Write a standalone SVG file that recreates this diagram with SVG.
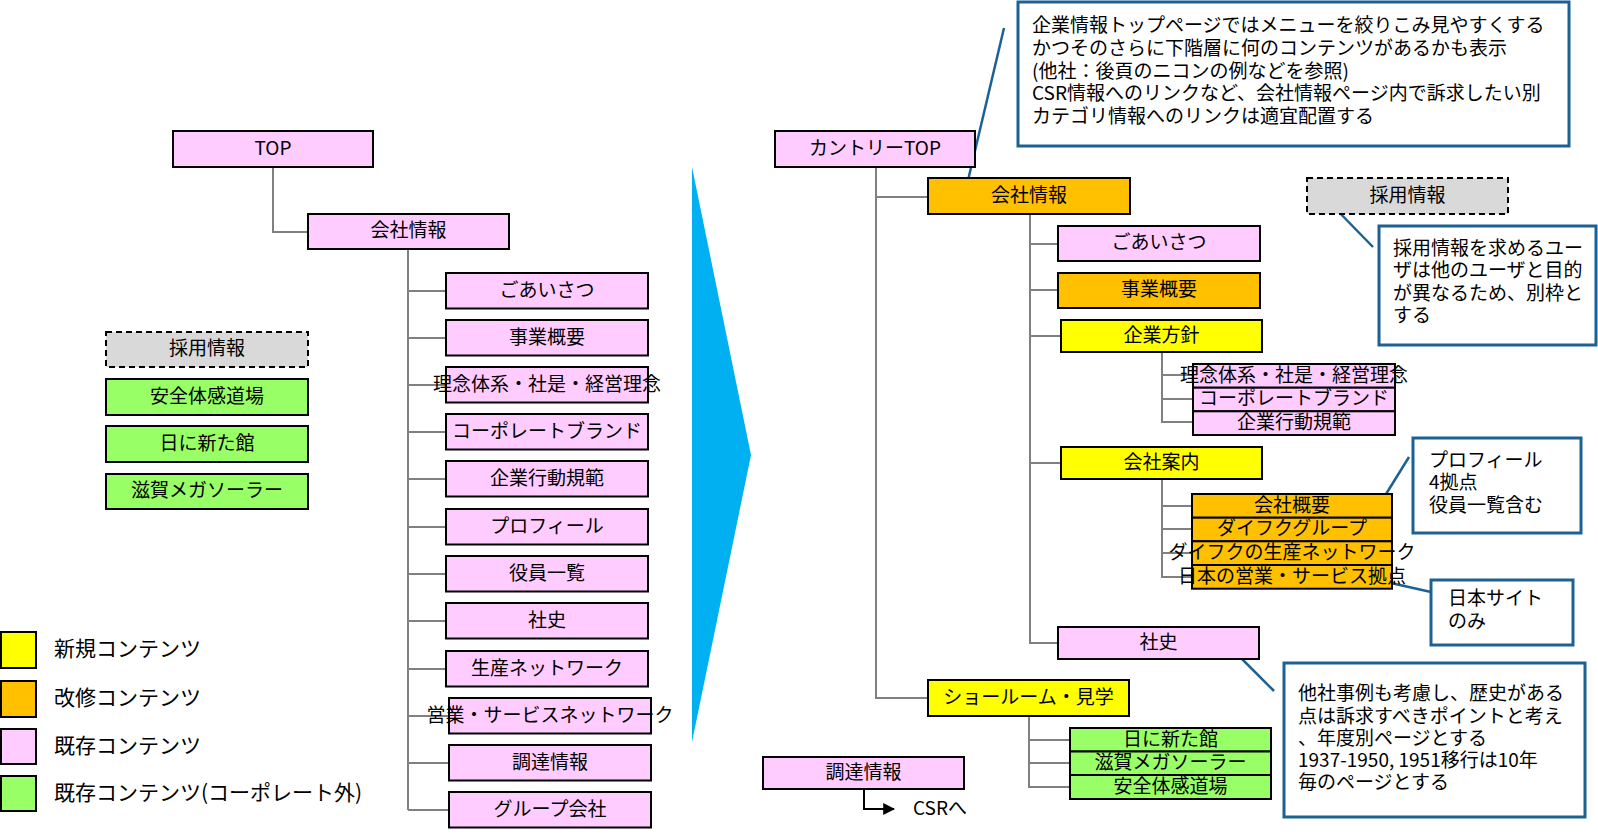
<svg xmlns="http://www.w3.org/2000/svg" width="1598" height="835" viewBox="0 0 1598 835">
<defs>
<marker id="ah" viewBox="0 0 10 10" refX="9" refY="5" markerWidth="6" markerHeight="6" orient="auto" markerUnits="strokeWidth"><path d="M0,0 L10,5 L0,10 z" fill="#000"/></marker>
<style>
text{font-family:"Noto Sans CJK JP","Noto Sans",sans-serif;font-size:19px;fill:#000;transform:translateY(-3px)}
.c{text-anchor:middle;dominant-baseline:central}
.l{dominant-baseline:central}
.lg{font-size:21px;dominant-baseline:central}
.bx{stroke:#000;stroke-width:2}
.pk{fill:#ffccff}.or{fill:#ffc000}.ye{fill:#ffff00}.gr{fill:#99ff66}
.gy{fill:#d9d9d9;stroke:#000;stroke-width:2;stroke-dasharray:6 4}
.cn{fill:none;stroke:#808080;stroke-width:2}
.co{fill:#fff;stroke:#1c6193;stroke-width:3}
.pt{fill:none;stroke:#1c6193;stroke-width:2.5}
</style>
</defs>
<rect width="1598" height="835" fill="#fff"/>

<g id="connectors">
<path class="cn" d="M273,167 V232 H308"/>
<path class="cn" d="M408,249 V810"/>
<path class="cn" d="M408,291 H446 M408,338 H446 M408,385 H446 M408,432 H446 M408,479 H446 M408,527 H446 M408,574 H446 M408,621 H446 M408,669 H446 M408,716 H449 M408,763 H449 M408,810 H449"/>
<path class="cn" d="M876,167 V698 H928 M876,197 H928"/>
<path class="cn" d="M1030,214 V643 H1058 M1030,244 H1058 M1030,290 H1058 M1030,336 H1061 M1030,463 H1061"/>
<path class="cn" d="M1162,352 V422 H1193 M1162,375 H1193 M1162,399 H1193"/>
<path class="cn" d="M1162,479 V577 H1192 M1162,506 H1192 M1162,529 H1192 M1162,553 H1192"/>
<path class="cn" d="M1029,716 V787 H1070 M1029,740 H1070 M1029,763 H1070"/>
<path d="M864,789 V809 H894" fill="none" stroke="#000" stroke-width="2" marker-end="url(#ah)"/>
<path class="pt" d="M1004,28 L965,193"/>
<path class="pt" d="M1332,205 L1373,247"/>
<path class="pt" d="M1409,457 L1378,507"/>
<path class="pt" d="M1373,579 L1431,592"/>
<path class="pt" d="M1233,650 L1274,691"/>
</g>

<g id="arrow"><polygon points="692,167 751,455 692,742" fill="#00b0f0"/></g>

<g id="n-top"><rect class="bx pk" x="173" y="131" width="200" height="36"/><text class="c" x="273" y="149">TOP</text></g>
<g id="n-kaisha-l"><rect class="bx pk" x="308" y="214" width="201" height="35"/><text class="c" x="408.5" y="231.5">会社情報</text></g>

<g id="l1"><rect class="bx pk" x="446" y="273" width="202" height="35.5"/><text class="c" x="547" y="291">ごあいさつ</text></g>
<g id="l2"><rect class="bx pk" x="446" y="320" width="202" height="35.5"/><text class="c" x="547" y="338">事業概要</text></g>
<g id="l3"><rect class="bx pk" x="446" y="367" width="202" height="35.5"/><text class="c" x="547" y="385">理念体系・社是・経営理念</text></g>
<g id="l4"><rect class="bx pk" x="446" y="414" width="202" height="35.5"/><text class="c" x="547" y="432">コーポレートブランド</text></g>
<g id="l5"><rect class="bx pk" x="446" y="461" width="202" height="35.5"/><text class="c" x="547" y="479">企業行動規範</text></g>
<g id="l6"><rect class="bx pk" x="446" y="509" width="202" height="35.5"/><text class="c" x="547" y="527">プロフィール</text></g>
<g id="l7"><rect class="bx pk" x="446" y="556" width="202" height="35.5"/><text class="c" x="547" y="574">役員一覧</text></g>
<g id="l8"><rect class="bx pk" x="446" y="603" width="202" height="35.5"/><text class="c" x="547" y="621">社史</text></g>
<g id="l9"><rect class="bx pk" x="446" y="651" width="202" height="35.5"/><text class="c" x="547" y="669">生産ネットワーク</text></g>
<g id="l10"><rect class="bx pk" x="449" y="698" width="202" height="35.5"/><text class="c" x="550" y="716">営業・サービスネットワーク</text></g>
<g id="l11"><rect class="bx pk" x="449" y="745" width="202" height="35.5"/><text class="c" x="550" y="763">調達情報</text></g>
<g id="l12"><rect class="bx pk" x="449" y="792" width="202" height="35.5"/><text class="c" x="550" y="810">グループ会社</text></g>

<g id="o1"><rect class="gy" x="106" y="332" width="202" height="35"/><text class="c" x="207" y="349.5">採用情報</text></g>
<g id="o2"><rect class="bx gr" x="106" y="379" width="202" height="36"/><text class="c" x="207" y="397">安全体感道場</text></g>
<g id="o3"><rect class="bx gr" x="106" y="426" width="202" height="36"/><text class="c" x="207" y="444">日に新た館</text></g>
<g id="o4"><rect class="bx gr" x="106" y="474" width="202" height="35"/><text class="c" x="207" y="491.5">滋賀メガソーラー</text></g>

<g id="legend">
<rect class="bx ye" x="1" y="632" width="35" height="36"/><text class="lg" x="54" y="650">新規コンテンツ</text>
<rect class="bx or" x="1" y="681" width="35" height="36"/><text class="lg" x="54" y="699">改修コンテンツ</text>
<rect class="bx pk" x="1" y="729" width="35" height="35"/><text class="lg" x="54" y="746.5">既存コンテンツ</text>
<rect class="bx gr" x="1" y="776" width="35" height="35"/><text class="lg" x="54" y="793.5">既存コンテンツ(コーポレート外)</text>
</g>

<g id="r-top"><rect class="bx pk" x="775" y="131" width="200" height="36"/><text class="c" x="875" y="149">カントリーTOP</text></g>
<g id="r-kaisha"><rect class="bx or" x="928" y="178" width="202" height="36"/><text class="c" x="1029" y="196">会社情報</text></g>
<g id="r-saiyo"><rect class="gy" x="1307" y="178" width="201" height="36"/><text class="c" x="1407.5" y="196">採用情報</text></g>
<g id="r-aisatsu"><rect class="bx pk" x="1058" y="226" width="202" height="35"/><text class="c" x="1159" y="243.5">ごあいさつ</text></g>
<g id="r-jigyo"><rect class="bx or" x="1058" y="273" width="202" height="35"/><text class="c" x="1159" y="290.5">事業概要</text></g>
<g id="r-hoshin"><rect class="bx ye" x="1061" y="320" width="201" height="32"/><text class="c" x="1161.5" y="336">企業方針</text></g>
<g id="r-rinen"><rect class="bx pk" x="1193" y="364" width="202" height="23.7"/><text class="c" x="1294" y="376">理念体系・社是・経営理念</text></g>
<g id="r-brand"><rect class="bx pk" x="1193" y="387.7" width="202" height="23.6"/><text class="c" x="1294" y="399.5">コーポレートブランド</text></g>
<g id="r-kodo"><rect class="bx pk" x="1193" y="411.3" width="202" height="23.7"/><text class="c" x="1294" y="423">企業行動規範</text></g>
<g id="r-annai"><rect class="bx ye" x="1061" y="447" width="201" height="32"/><text class="c" x="1161.5" y="463">会社案内</text></g>
<g id="r-gaiyo"><rect class="bx or" x="1192" y="494" width="200" height="23.7"/><text class="c" x="1292" y="506">会社概要</text></g>
<g id="r-group"><rect class="bx or" x="1192" y="517.7" width="200" height="23.6"/><text class="c" x="1292" y="529.5">ダイフクグループ</text></g>
<g id="r-seisan"><rect class="bx or" x="1192" y="541.3" width="200" height="23.7"/><text class="c" x="1292" y="553">ダイフクの生産ネットワーク</text></g>
<g id="r-eigyo"><rect class="bx or" x="1192" y="565" width="200" height="23.7"/><text class="c" x="1292" y="577">日本の営業・サービス拠点</text></g>
<g id="r-shashi"><rect class="bx pk" x="1058" y="627" width="201" height="32"/><text class="c" x="1158.5" y="643">社史</text></g>
<g id="r-show"><rect class="bx ye" x="928" y="680" width="201" height="36"/><text class="c" x="1028.5" y="698">ショールーム・見学</text></g>
<g id="r-hini"><rect class="bx gr" x="1070" y="728" width="201" height="23.5"/><text class="c" x="1170.5" y="740">日に新た館</text></g>
<g id="r-shiga"><rect class="bx gr" x="1070" y="751.5" width="201" height="23.5"/><text class="c" x="1170.5" y="763.5">滋賀メガソーラー</text></g>
<g id="r-anzen"><rect class="bx gr" x="1070" y="775" width="201" height="24"/><text class="c" x="1170.5" y="787">安全体感道場</text></g>
<g id="r-chotatsu"><rect class="bx pk" x="763" y="757" width="201" height="32"/><text class="c" x="863.5" y="773">調達情報</text></g>
<g id="r-csr"><text class="l" x="913" y="809">CSRへ</text></g>

<g id="c-top"><rect class="co" x="1018" y="2" width="551" height="144"/>
<text class="l" x="1032" y="26.5">企業情報トップページではメニューを絞りこみ見やすくする</text>
<text class="l" x="1032" y="49">かつそのさらに下階層に何のコンテンツがあるかも表示</text>
<text class="l" x="1032" y="72">(他社：後頁のニコンの例などを参照)</text>
<text class="l" x="1032" y="94.5">CSR情報へのリンクなど、会社情報ページ内で訴求したい別</text>
<text class="l" x="1032" y="117">カテゴリ情報へのリンクは適宜配置する</text>
</g>
<g id="c-saiyo"><rect class="co" x="1379" y="226" width="217" height="119"/>
<text class="l" x="1393" y="249">採用情報を求めるユー</text>
<text class="l" x="1393" y="271.5">ザは他のユーザと目的</text>
<text class="l" x="1393" y="294">が異なるため、別枠と</text>
<text class="l" x="1393" y="316.5">する</text>
</g>
<g id="c-profile"><rect class="co" x="1413" y="438" width="168" height="95"/>
<text class="l" x="1429" y="461">プロフィール</text>
<text class="l" x="1429" y="483.5">4拠点</text>
<text class="l" x="1429" y="506">役員一覧含む</text>
</g>
<g id="c-japan"><rect class="co" x="1431" y="580" width="142" height="65"/>
<text class="l" x="1448" y="599.5">日本サイト</text>
<text class="l" x="1448" y="622">のみ</text>
</g>
<g id="c-shashi"><rect class="co" x="1284" y="663" width="301" height="154"/>
<text class="l" x="1298" y="694.5">他社事例も考慮し、歴史がある</text>
<text class="l" x="1298" y="717">点は訴求すべきポイントと考え</text>
<text class="l" x="1298" y="739">、年度別ページとする</text>
<text class="l" x="1298" y="761">1937-1950, 1951移行は10年</text>
<text class="l" x="1298" y="783.5">毎のページとする</text>
</g>
</svg>
